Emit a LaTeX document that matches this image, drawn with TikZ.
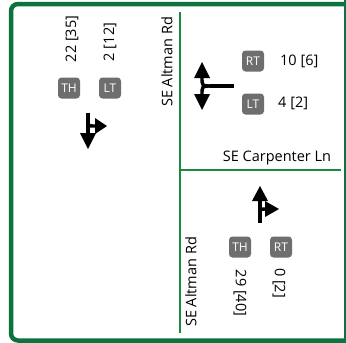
\documentclass[tikz,border=0pt]{standalone}
\usepackage{fontspec}
\setmainfont{Open Sans}
\begin{document}
\begin{tikzpicture}[x=1pt,y=-1pt,
  frame/.style={draw=framegreen,line width=4.5pt},
  road/.style={draw=roadgreen,line width=1.6pt},
  badge/.style={fill=badgegray,rounded corners=3.5pt,text=white,minimum width=22pt,minimum height=21pt,inner sep=0pt,font=\fontsize{12}{14}\selectfont},
  vol/.style={font=\fontsize{14.5}{16}\selectfont,inner sep=0pt},
  street/.style={font=\fontsize{14.5}{16}\selectfont,inner sep=0pt},
  mv/.style={line width=3.4pt,draw=black},
  head/.style={fill=black}]
\definecolor{framegreen}{RGB}{12,115,62}
\definecolor{roadgreen}{RGB}{28,138,62}
\definecolor{badgegray}{RGB}{110,110,110}
\useasboundingbox (0,0) rectangle (346,343);
\fill[white] (0,0) rectangle (346,343);

% outer frame, rounded on the left side only
\draw[frame] (350,4) [rounded corners=7pt] -- (11,4) -- (11,340.5) [sharp corners] -- (350,340.5);
\draw[frame] (346.5,0) -- (346.5,343);

% street centre lines
\draw[road] (180,12) -- (180,333);
\draw[road] (180,170) -- (341,170);

% street names
\node[street,rotate=90] (altN) at (167,62) {SE Altman Rd};
\node[street] (carp) at (277,158) {SE Carpenter Ln};
\node[street,rotate=90] (altS) at (191,282) {SE Altman Rd};

% southbound approach
\node[vol,rotate=90] (sbTHv) at (72,39) {22 [35]};
\node[vol,rotate=90] (sbLTv) at (110,42) {2 [12]};
\node[badge] (sbTH) at (69,88) {TH};
\node[badge] (sbLT) at (110,88) {LT};
\draw[mv] (88,113) -- (88,134);
\fill[head] (80,133) -- (96,133) -- (88,149) -- cycle;
\draw[mv] (88,119) .. controls (88,126) .. (94,126) -- (96,126);
\fill[head] (95,118) -- (95,134) -- (107,126) -- cycle;

% westbound approach
\node[badge] (wbRT) at (253,61) {RT};
\node[badge] (wbLT) at (253,104) {LT};
\node[vol,anchor=west] (wbRTv) at (280,61) {10 [6]};
\node[vol,anchor=west] (wbLTv) at (278,103) {4 [2]};
\draw[mv] (234,86) -- (210,86);
\draw[mv] (211,86) .. controls (202,86) .. (202,77);
\fill[head] (194,78) -- (210,78) -- (202,62) -- cycle;
\draw[mv] (211,86) .. controls (202,86) .. (202,95);
\fill[head] (194,94) -- (210,94) -- (202,110) -- cycle;

% northbound approach
\node[badge] (nbTH) at (240,247) {TH};
\node[badge] (nbRT) at (281,247) {RT};
\node[vol,rotate=-90] (nbTHv) at (240,293) {29 [40]};
\node[vol,rotate=-90] (nbRTv) at (279,283) {0 [2]};
\draw[mv] (260,223) -- (260,200);
\fill[head] (252,201) -- (268,201) -- (260,186) -- cycle;
\draw[mv] (260,216) .. controls (260,209) .. (266,209);
\fill[head] (265,201) -- (265,217) -- (279,209) -- cycle;
\end{tikzpicture}
\end{document}
